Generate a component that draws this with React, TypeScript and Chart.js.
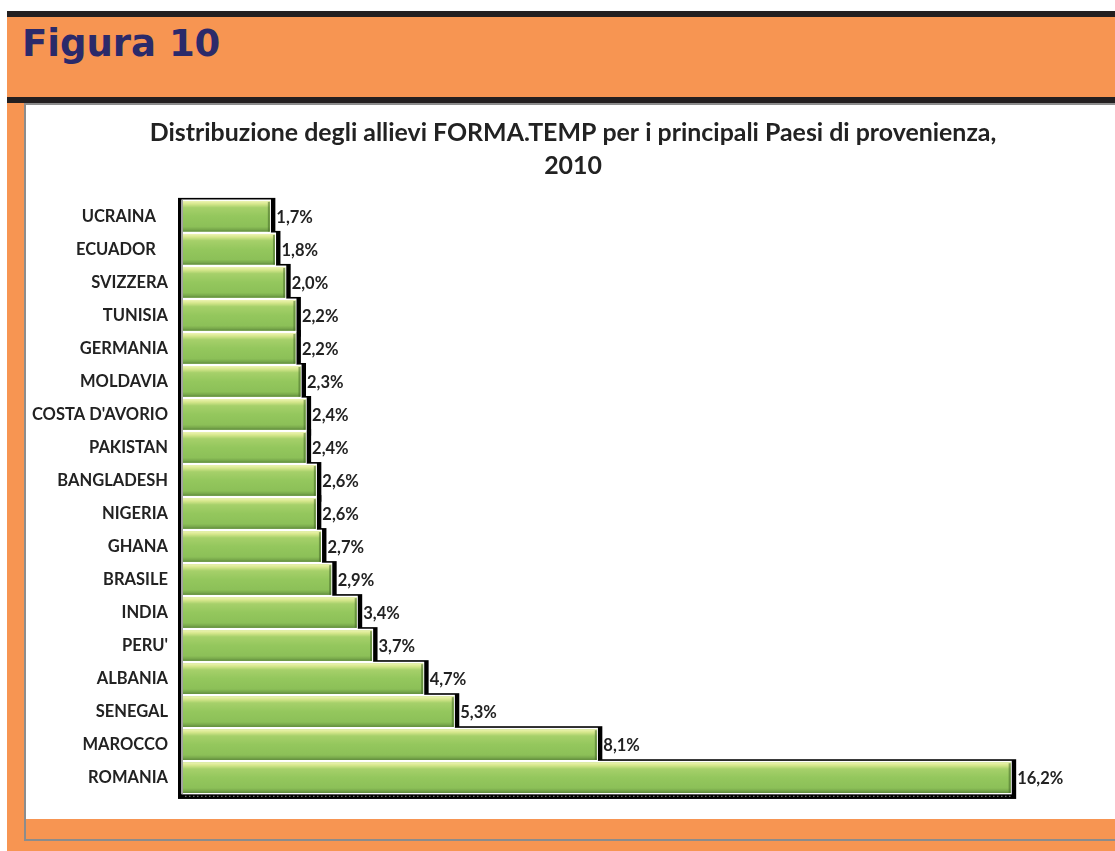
import React, { useEffect, useRef } from "react";
import { Chart, registerables } from "chart.js";

Chart.register(...registerables);

const figureLabel = "Figura 10";
const titleLines = [
  "Distribuzione degli allievi FORMA.TEMP per i principali Paesi di provenienza,",
  "2010",
];
const countries = [
  "UCRAINA   ",
  "ECUADOR   ",
  "SVIZZERA",
  "TUNISIA",
  "GERMANIA",
  "MOLDAVIA",
  "COSTA D'AVORIO",
  "PAKISTAN",
  "BANGLADESH",
  "NIGERIA",
  "GHANA",
  "BRASILE",
  "INDIA",
  "PERU'",
  "ALBANIA",
  "SENEGAL",
  "MAROCCO",
  "ROMANIA",
];
const shares = [1.7, 1.8, 2.0, 2.2, 2.2, 2.3, 2.4, 2.4, 2.6, 2.6, 2.7, 2.9, 3.4, 3.7, 4.7, 5.3, 8.1, 16.2];
const xMax = 18.34;

const FONT = "Lato, 'Open Sans', sans-serif";
const TEXT = "#222222";

const fmt = (v: number) => v.toFixed(1).replace(".", ",") + "%";

const bevelPlugin = {
  id: "bevelBars",
  beforeDatasetsDraw(chart: any) {
    const ctx = chart.ctx;
    const meta = chart.getDatasetMeta(0);
    const bars = meta.data.map((b: any) => b.getProps(["x", "y", "base", "height"], true));
    ctx.save();
    ctx.fillStyle = "#000";
    bars.forEach((b: any) => {
      const top = b.y - b.height / 2;
      ctx.fillRect(b.base - 5, top - 3, b.x - b.base + 10.5, b.height + 9);
    });
    ctx.fillStyle = "#fff";
    bars.forEach((b: any) => {
      const top = b.y - b.height / 2;
      ctx.fillRect(b.base - 1.5, top - 1.4, b.x - b.base + 2.6, b.height + 2.8);
    });
    ctx.restore();
  },
  afterDatasetsDraw(chart: any) {
    const ctx = chart.ctx;
    const meta = chart.getDatasetMeta(0);
    const bars = meta.data.map((b: any) => b.getProps(["x", "y", "base", "height"], true));
    ctx.save();
    bars.forEach((b: any) => {
      const top = b.y - b.height / 2;
      const bottom = b.y + b.height / 2;
      const g = ctx.createLinearGradient(0, top, 0, bottom);
      g.addColorStop(0, "#eef4b4");
      g.addColorStop(0.1, "#d6e78c");
      g.addColorStop(0.22, "#a6d06a");
      g.addColorStop(0.5, "#94c75d");
      g.addColorStop(0.84, "#8cc058");
      g.addColorStop(0.93, "#78a84b");
      g.addColorStop(1, "#5f8a3c");
      ctx.fillStyle = g;
      ctx.fillRect(b.base, top, b.x - b.base, b.height);
      ctx.fillStyle = "rgba(70,105,40,0.55)";
      ctx.fillRect(b.x - 2, top + 1, 2, b.height - 1);
    });
    if (bars.length) {
      const first = bars[0];
      const last = bars[bars.length - 1];
      ctx.fillStyle = "#a3a3a3";
      ctx.fillRect(first.base - 2, first.y - first.height / 2 - 1, 2, last.y + last.height / 2 - (first.y - first.height / 2) + 2);
      ctx.strokeStyle = "#6d6d6d";
      ctx.lineWidth = 1.2;
      ctx.setLineDash([1.5, 2.5]);
      ctx.beginPath();
      const yb = last.y + last.height / 2 + 3.5;
      ctx.moveTo(last.base + 2, yb);
      ctx.lineTo(last.x, yb);
      ctx.stroke();
      ctx.setLineDash([]);
    }
    ctx.font = `bold 16.5px ${FONT}`;
    ctx.fillStyle = TEXT;
    ctx.textBaseline = "middle";
    ctx.textAlign = "left";
    bars.forEach((b: any, i: number) => {
      ctx.fillText(fmt(shares[i]), b.x + 6.5, b.y + 1);
    });
    ctx.restore();
  },
};

function BarChart() {
  const ref = useRef<HTMLCanvasElement | null>(null);
  useEffect(() => {
    if (!ref.current) return;
    const chart = new Chart(ref.current, {
      type: "bar",
      data: {
        labels: countries,
        datasets: [
          {
            data: shares,
            backgroundColor: "#92c65c",
            borderWidth: 0,
            barPercentage: 0.93,
            categoryPercentage: 1,
          },
        ],
      },
      options: {
        indexAxis: "y",
        animation: false,
        responsive: true,
        maintainAspectRatio: false,
        layout: { padding: { left: 0, right: 16, top: 0, bottom: 18 } },
        plugins: {
          legend: { display: false },
          tooltip: { enabled: false },
          title: {
            display: true,
            text: titleLines,
            color: TEXT,
            font: { family: FONT, size: 24.9, weight: "bold", lineHeight: 1.33 },
            padding: { top: 11.5, bottom: 17 },
          },
        },
        scales: {
          x: { display: false, min: 0, max: xMax },
          y: {
            afterFit: (scale: any) => {
              scale.width = 157;
            },
            grid: { display: false, drawTicks: false },
            border: { display: false },
            ticks: {
              color: TEXT,
              padding: 15,
              font: { family: FONT, size: 16.5, weight: "bold" },
            },
          },
        },
      },
      plugins: [bevelPlugin],
    } as any);
    return () => chart.destroy();
  }, []);
  return <canvas ref={ref} />;
}

export default function App() {
  const orange = "#f79552";
  const black = "#231f20";
  return (
    <div style={{ position: "absolute", left: 0, top: 0, width: 1115, height: 851, background: "#fff", overflow: "hidden" }}>
      <div style={{ position: "absolute", left: 7, top: 11, width: 1108, height: 840, background: orange }} />
      <div style={{ position: "absolute", left: 7, top: 11, width: 1108, height: 6, background: black }} />
      <div
        style={{
          position: "absolute",
          left: 22,
          top: 25,
          fontFamily: "'DejaVu Sans', Verdana, sans-serif",
          fontWeight: "bold",
          fontSize: 37,
          lineHeight: "37px",
          color: "#2b2a6a",
          whiteSpace: "nowrap",
        }}
      >
        {figureLabel}
      </div>
      <div style={{ position: "absolute", left: 7, top: 97, width: 1108, height: 6, background: black }} />
      <div
        style={{
          position: "absolute",
          left: 24,
          top: 103,
          width: 1100,
          height: 738,
          boxSizing: "border-box",
          border: "2px solid #8c8c8c",
          background: orange,
        }}
      />
      <div style={{ position: "absolute", left: 26, top: 105, width: 1100, height: 714, background: "#fff" }} />
      <div style={{ position: "absolute", left: 26, top: 105, width: 1110, height: 714 }}>
        <BarChart />
      </div>
    </div>
  );
}
